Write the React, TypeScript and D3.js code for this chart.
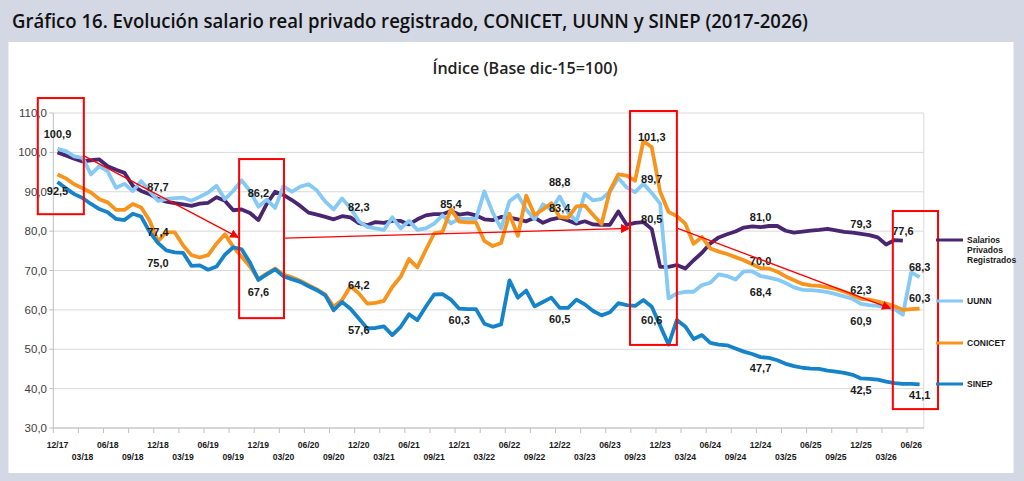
import { useMemo } from 'react'
import { line, scaleBand, scaleLinear, timeFormat, timeMonth } from 'd3'

// Índice de salario real (base dic-15 = 100), serie mensual dic-17 a jul-26.

const MONTHS = timeMonth.range(new Date(2017, 11, 1), new Date(2026, 7, 1)).map(timeFormat('%m/%y'))

const Y_TICKS = [30, 40, 50, 60, 70, 80, 90, 100, 110]

const SALARIOS = [
  100.0, 99.2, 98.4, 97.7, 98.0, 98.2, 96.5, 95.6, 94.8, 91.5, 90.2, 89.4,
  88.2, 87.5, 87.1, 86.8, 86.4, 87.0, 87.2, 88.6, 87.7, 85.3, 85.5, 84.6,
  82.8, 86.9, 90.0, 89.2, 87.9, 86.4, 84.7, 84.2, 83.6, 83.0, 83.8, 83.5,
  82.0, 81.5, 82.3, 82.1, 82.6, 82.6, 81.7, 83.0, 84.0, 84.3, 84.3, 85.1,
  84.2, 84.5, 84.0, 83.0, 82.8, 83.6, 83.4, 83.0, 82.5, 83.4, 82.1, 83.0,
  83.4, 82.7, 81.9, 82.5, 81.7, 81.6, 81.6, 85.0, 81.6, 82.1, 82.3, 80.5,
  70.9, 70.9, 71.4, 70.5, 72.6, 74.5, 76.9, 78.4, 79.2, 79.9, 80.9, 81.2,
  81.0, 81.3, 81.3, 80.1, 79.6, 79.9, 80.1, 80.3, 80.6, 80.2, 79.8, 79.6,
  79.3, 79.0, 78.4, 76.6, 77.7, 77.6,
]

const UUNN = [
  100.9, 100.3, 99.0, 98.6, 94.4, 96.5, 95.2, 91.0, 92.0, 90.2, 92.7, 90.2,
  87.7, 88.1, 88.4, 88.5, 87.7, 88.7, 89.8, 91.5, 88.1, 90.2, 92.9, 90.2,
  86.2, 88.0, 85.9, 91.4, 90.0, 91.3, 91.9, 90.3, 87.5, 85.5, 88.3, 85.9,
  82.5, 81.1, 80.7, 80.3, 83.5, 80.7, 82.6, 80.3, 80.7, 81.9, 84.0, 82.0,
  83.1, 83.1, 83.1, 90.1, 84.7, 80.7, 87.6, 89.2, 85.5, 83.0, 86.8, 85.5,
  88.8, 84.7, 82.5, 89.5, 87.8, 88.2, 90.0, 93.5, 91.1, 89.9, 92.0, 89.7,
  87.0, 62.9, 64.2, 64.6, 64.6, 66.3, 66.9, 69.0, 68.6, 67.7, 69.8, 69.8,
  68.6, 68.2, 67.7, 66.8, 65.7, 65.1, 65.0, 64.8, 64.5, 64.0, 63.4, 62.8,
  61.5, 61.2, 61.0, 60.6, 60.2, 58.8, 69.5, 68.3,
]

const CONICET = [
  94.4, 93.4, 91.9, 90.9, 89.8, 88.1, 87.3, 85.4, 85.4, 86.9, 86.0, 82.7,
  77.4, 79.7, 79.7, 76.4, 73.9, 73.3, 73.9, 76.8, 79.2, 76.0, 73.5, 71.0,
  67.8, 69.2, 70.5, 69.0, 68.3, 67.4, 66.3, 65.2, 63.9, 60.8, 62.5, 66.0,
  64.2, 61.6, 61.8, 62.3, 65.8, 68.4, 72.9, 70.8, 75.2, 79.4, 79.8, 85.6,
  82.4, 82.2, 82.2, 77.5, 76.2, 77.0, 84.4, 78.8, 89.0, 84.1, 85.5, 87.1,
  83.6, 83.4, 86.3, 86.5, 84.1, 81.8, 90.3, 94.4, 94.1, 92.8, 102.9, 101.3,
  90.0, 84.9, 83.8, 81.9, 76.8, 78.5, 75.6, 74.8, 74.2, 73.4, 72.6, 71.6,
  70.6, 70.5, 69.7, 68.5, 67.5, 66.6, 66.2, 66.1, 65.7, 65.3, 64.6, 63.8,
  62.8, 62.6, 62.1, 61.6, 60.9, 60.0, 60.2, 60.3,
]

const SINEP = [
  92.5, 90.9, 89.4, 88.4, 86.9, 85.6, 84.8, 83.1, 82.8, 84.4, 83.7, 79.8,
  77.0, 75.1, 74.6, 74.5, 71.2, 71.3, 70.2, 71.0, 74.0, 75.9, 75.4, 72.0,
  67.6, 69.0, 70.3, 68.5, 67.8, 67.1, 66.0, 65.0, 63.7, 59.9, 62.0, 60.3,
  57.8, 55.3, 55.4, 55.8, 53.6, 55.7, 58.9, 57.4, 60.8, 63.9, 64.0, 62.6,
  60.3, 60.2, 60.2, 56.5, 55.7, 56.3, 67.5, 63.1, 64.9, 60.9, 62.0, 63.1,
  60.5, 60.5, 62.6, 61.4, 59.7, 58.6, 59.4, 61.7, 61.2, 61.0, 62.5, 60.8,
  56.0, 51.2, 57.4, 55.8, 52.6, 53.6, 51.6, 51.2, 51.0, 50.2, 49.4, 48.8,
  48.0, 47.8, 47.2, 46.3, 45.7, 45.3, 45.1, 45.0, 44.6, 44.3, 44.0, 43.5,
  42.6, 42.5, 42.3, 41.8, 41.4, 41.2, 41.2, 41.1,
]

// rótulos de valor: [índice de mes, valor, desplazamiento vertical en px]
const LABEL_MONTHS = [0, 0, 12, 12, 12, 24, 24, 36, 36, 36, 47, 48, 60, 60, 60, 71, 71, 71, 71, 84, 84, 84, 84, 96, 96, 96, 96, 101, 103, 103, 103]
const LABEL_VALUES = [100.9, 92.5, 87.7, 77.4, 75.0, 86.2, 67.6, 82.3, 64.2, 57.6, 85.4, 60.3, 88.8, 83.4, 60.5, 101.3, 89.7, 80.5, 60.6, 81.0, 70.0, 68.4, 47.7, 79.3, 62.3, 60.9, 42.5, 77.6, 68.3, 60.3, 41.1]
const LABEL_DY = [-15, 9, -14, -9, 12, -14, 12, -15, -8, 11, -6, 11, -14, -10, 11, -10, -14, -10, 12, -10, -10, 15, 10, -10, -11, 15, 11, -10, -10, -11, 11]

// recuadros y flechas rojas, en coordenadas (mes, valor)
const BOXES = [
  { j0: -2.35, j1: 3.15, v0: 113.8, v1: 84.3 },
  { j0: 21.7, j1: 27.06, v0: 98.3, v1: 57.9 },
  { j0: 68.4, j1: 74.0, v0: 110.5, v1: 51.1 },
  { j0: 99.8, j1: 105.2, v0: 85.1, v1: 34.8 },
]
const ARROWS = [
  { j0: 3.17, v0: 99.1, j1: 21.6, v1: 78.4 },
  { j0: 27.2, v0: 78.2, j1: 68.3, v1: 80.7 },
  { j0: 74.1, v0: 80.7, j1: 99.5, v1: 60.4 },
]

const SERIES = [
  { name: ['Salarios', 'Privados', 'Registrados'], values: SALARIOS, color: '#4b2670', ly: 240 },
  { name: ['UUNN'], values: UUNN, color: '#85c9f4', ly: 301 },
  { name: ['CONICET'], values: CONICET, color: '#f7941d', ly: 343 },
  { name: ['SINEP'], values: SINEP, color: '#1683c9', ly: 384 },
]

const W = 1024
const H = 481
const PLOT = { left: 53.3, right: 923.8, top: 113, bottom: 428 }
const NUM_FONT = '"Liberation Sans", Arial, sans-serif'
const fmt = (v: number) => v.toFixed(1).replace('.', ',')

export default function App() {
  const x = useMemo(() => scaleBand<string>().domain(MONTHS).range([PLOT.left, PLOT.right]), [])
  const y = useMemo(() => scaleLinear().domain([30, 110]).range([PLOT.bottom, PLOT.top]), [])
  const step = x.step()
  const xAt = (j: number) => PLOT.left + step * (j + 0.5)
  const cx = (i: number) => (x(MONTHS[i]) ?? 0) + x.bandwidth() / 2

  const path = line<number>()
    .x((_, i) => cx(i))
    .y((d) => y(d))

  return (
    <div style={{ position: 'absolute', left: 0, top: 0 }}>
      <svg width={W} height={H} viewBox={`0 0 ${W} ${H}`} style={{ display: 'block' }}>
        <defs>
          <marker id="ah" viewBox="0 0 10 10" refX="9" refY="5" markerWidth="7" markerHeight="7" orient="auto">
            <path d="M0,0 L10,5 L0,10 z" fill="#ff0000" />
          </marker>
        </defs>
        <rect x={0} y={0} width={W} height={H} fill="#d4d8e4" />
        <rect x={8.5} y={42} width={1005} height={431} fill="#ffffff" />

        <text x={12} y={28} fontFamily='"Open Sans", sans-serif' fontWeight={600} fontSize={19} textLength={796} lengthAdjust="spacingAndGlyphs" fill="#111">
          Gráfico 16. Evolución salario real privado registrado, CONICET, UUNN y SINEP (2017-2026)
        </text>
        <text x={525} y={74} textAnchor="middle" fontFamily='"Open Sans", sans-serif' fontWeight={600} fontSize={15.5} textLength={185} lengthAdjust="spacingAndGlyphs" fill="#222">
          Índice (Base dic-15=100)
        </text>

        {/* grilla y eje Y */}
        {Y_TICKS.map((t) => (
          <g key={t}>
            <line x1={PLOT.left} x2={PLOT.right} y1={y(t)} y2={y(t)} stroke="#d9d9d9" strokeWidth={1} />
            <line x1={PLOT.left - 4} x2={PLOT.left} y1={y(t)} y2={y(t)} stroke="#bfbfbf" />
            <text x={47} y={y(t)} textAnchor="end" dominantBaseline="central" fontFamily={NUM_FONT} fontSize={11.5} fill="#404040">
              {fmt(t)}
            </text>
          </g>
        ))}
        <line x1={PLOT.left} x2={PLOT.left} y1={PLOT.top} y2={PLOT.bottom} stroke="#bfbfbf" />
        <line x1={PLOT.right} x2={PLOT.right} y1={PLOT.top} y2={PLOT.bottom} stroke="#d9d9d9" />
        <line x1={PLOT.left} x2={PLOT.right} y1={PLOT.bottom} y2={PLOT.bottom} stroke="#bfbfbf" />

        {/* eje X: marcas cada 3 meses, rótulos alternados en dos filas */}
        {MONTHS.map((m, i) =>
          i % 3 === 0 ? (
            <g key={m}>
              <line x1={x(m)} x2={x(m)} y1={PLOT.bottom} y2={PLOT.bottom + 5} stroke="#bfbfbf" />
              <text x={cx(i)} y={(i / 3) % 2 === 0 ? 447.5 : 459.5} textAnchor="middle" fontFamily={NUM_FONT} fontWeight={700} fontSize={8.6} fill="#1a1a1a">
                {m}
              </text>
            </g>
          ) : null,
        )}

        {/* series */}
        {SERIES.map((s) => (
          <path key={s.color} d={path(s.values) ?? ''} fill="none" stroke={s.color} strokeWidth={3.8} strokeLinejoin="round" strokeLinecap="butt" />
        ))}

        {/* rótulos de datos */}
        {LABEL_VALUES.map((v, k) => (
          <text key={k} x={cx(LABEL_MONTHS[k])} y={y(v) + LABEL_DY[k]} textAnchor="middle" dominantBaseline="central" fontFamily={NUM_FONT} fontWeight={700} fontSize={11} fill="#1a1a1a">
            {fmt(v)}
          </text>
        ))}

        {/* anotaciones rojas */}
        {BOXES.map((b, k) => (
          <rect key={k} x={xAt(b.j0)} y={y(b.v0)} width={xAt(b.j1) - xAt(b.j0)} height={y(b.v1) - y(b.v0)} fill="none" stroke="#ff0000" strokeWidth={2} />
        ))}
        {ARROWS.map((a, k) => (
          <line key={k} x1={xAt(a.j0)} y1={y(a.v0)} x2={xAt(a.j1)} y2={y(a.v1)} stroke="#ff0000" strokeWidth={1.3} markerEnd="url(#ah)" />
        ))}

        {/* leyenda */}
        {SERIES.map((s) => (
          <g key={s.color}>
            <line x1={936} x2={963} y1={s.ly} y2={s.ly} stroke={s.color} strokeWidth={3} />
            {s.name.map((n, k) => (
              <text key={n} x={967} y={s.ly + k * 10} dominantBaseline="central" fontFamily={NUM_FONT} fontWeight={700} fontSize={8.5} fill="#1a1a1a">
                {n}
              </text>
            ))}
          </g>
        ))}
      </svg>
    </div>
  )
}
